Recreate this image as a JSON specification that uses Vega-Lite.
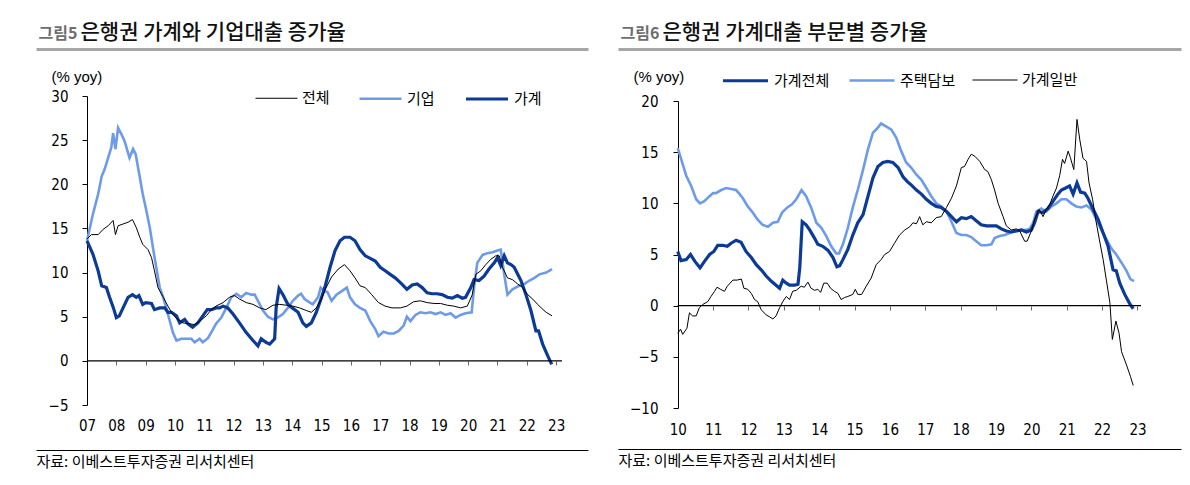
{
  "$schema": "https://vega.github.io/schema/vega-lite/v6.json",
  "padding": {"left": 33, "top": 21, "right": 5, "bottom": 5},
  "background": "#ffffff",
  "config": {
    "view": {"stroke": null},
    "axis": {"grid": false, "labelFont": "DejaVu Sans Condensed, Liberation Sans, sans-serif", "labelFontSize": 15, "labelColor": "#000000", "domainColor": "#000000", "tickColor": "#000000"},
    "legend": {"labelFont": "Noto Sans CJK KR", "labelFontSize": 15, "labelColor": "#000000"}
  },
  "datasets": {
    "left": [
      {"s":"기업","t":2007.0,"v":13.6},{"s":"기업","t":2007.2,"v":16.6},{"s":"기업","t":2007.38,"v":18.9},{"s":"기업","t":2007.5,"v":20.9},{"s":"기업","t":2007.6,"v":21.7},{"s":"기업","t":2007.72,"v":23.0},{"s":"기업","t":2007.83,"v":24.2},{"s":"기업","t":2007.89,"v":25.8},{"s":"기업","t":2007.97,"v":24.0},{"s":"기업","t":2008.06,"v":26.4},{"s":"기업","t":2008.17,"v":25.7},{"s":"기업","t":2008.28,"v":24.9},{"s":"기업","t":2008.45,"v":23.0},{"s":"기업","t":2008.57,"v":24.0},{"s":"기업","t":2008.66,"v":23.4},{"s":"기업","t":2008.8,"v":20.8},{"s":"기업","t":2008.9,"v":18.9},{"s":"기업","t":2009.0,"v":17.4},{"s":"기업","t":2009.14,"v":15.1},{"s":"기업","t":2009.25,"v":12.8},{"s":"기업","t":2009.36,"v":10.6},{"s":"기업","t":2009.48,"v":8.3},{"s":"기업","t":2009.6,"v":7.2},{"s":"기업","t":2009.76,"v":5.3},{"s":"기업","t":2009.93,"v":3.2},{"s":"기업","t":2010.05,"v":2.3},{"s":"기업","t":2010.22,"v":2.5},{"s":"기업","t":2010.39,"v":2.5},{"s":"기업","t":2010.56,"v":2.5},{"s":"기업","t":2010.67,"v":2.1},{"s":"기업","t":2010.84,"v":2.5},{"s":"기업","t":2010.95,"v":2.1},{"s":"기업","t":2011.13,"v":2.6},{"s":"기업","t":2011.3,"v":3.6},{"s":"기업","t":2011.4,"v":4.2},{"s":"기업","t":2011.58,"v":4.9},{"s":"기업","t":2011.75,"v":6.0},{"s":"기업","t":2011.92,"v":7.2},{"s":"기업","t":2012.1,"v":7.6},{"s":"기업","t":2012.26,"v":7.2},{"s":"기업","t":2012.43,"v":7.7},{"s":"기업","t":2012.6,"v":7.5},{"s":"기업","t":2012.72,"v":7.5},{"s":"기업","t":2012.83,"v":6.8},{"s":"기업","t":2013.0,"v":5.7},{"s":"기업","t":2013.17,"v":5.0},{"s":"기업","t":2013.34,"v":4.7},{"s":"기업","t":2013.5,"v":4.9},{"s":"기업","t":2013.68,"v":5.3},{"s":"기업","t":2013.85,"v":6.0},{"s":"기업","t":2014.02,"v":6.8},{"s":"기업","t":2014.2,"v":7.4},{"s":"기업","t":2014.3,"v":7.6},{"s":"기업","t":2014.42,"v":7.0},{"s":"기업","t":2014.6,"v":6.6},{"s":"기업","t":2014.7,"v":6.4},{"s":"기업","t":2014.88,"v":7.2},{"s":"기업","t":2014.97,"v":8.3},{"s":"기업","t":2015.1,"v":7.9},{"s":"기업","t":2015.2,"v":7.8},{"s":"기업","t":2015.34,"v":6.8},{"s":"기업","t":2015.51,"v":7.5},{"s":"기업","t":2015.69,"v":7.9},{"s":"기업","t":2015.86,"v":8.3},{"s":"기업","t":2015.97,"v":7.2},{"s":"기업","t":2016.14,"v":6.4},{"s":"기업","t":2016.31,"v":6.0},{"s":"기업","t":2016.49,"v":5.7},{"s":"기업","t":2016.66,"v":4.5},{"s":"기업","t":2016.83,"v":3.6},{"s":"기업","t":2016.94,"v":2.8},{"s":"기업","t":2017.11,"v":3.3},{"s":"기업","t":2017.29,"v":3.1},{"s":"기업","t":2017.46,"v":3.1},{"s":"기업","t":2017.63,"v":3.4},{"s":"기업","t":2017.8,"v":4.0},{"s":"기업","t":2017.91,"v":5.0},{"s":"기업","t":2018.03,"v":4.5},{"s":"기업","t":2018.2,"v":5.2},{"s":"기업","t":2018.37,"v":5.5},{"s":"기업","t":2018.54,"v":5.4},{"s":"기업","t":2018.71,"v":5.5},{"s":"기업","t":2018.89,"v":5.3},{"s":"기업","t":2019.06,"v":5.5},{"s":"기업","t":2019.23,"v":5.2},{"s":"기업","t":2019.4,"v":5.4},{"s":"기업","t":2019.57,"v":4.9},{"s":"기업","t":2019.74,"v":5.2},{"s":"기업","t":2019.91,"v":5.4},{"s":"기업","t":2020.12,"v":5.5},{"s":"기업","t":2020.2,"v":8.3},{"s":"기업","t":2020.31,"v":11.1},{"s":"기업","t":2020.49,"v":12.0},{"s":"기업","t":2020.66,"v":12.2},{"s":"기업","t":2020.83,"v":12.3},{"s":"기업","t":2021.0,"v":12.5},{"s":"기업","t":2021.11,"v":12.6},{"s":"기업","t":2021.23,"v":9.8},{"s":"기업","t":2021.34,"v":7.5},{"s":"기업","t":2021.51,"v":8.1},{"s":"기업","t":2021.74,"v":8.5},{"s":"기업","t":2021.91,"v":8.7},{"s":"기업","t":2022.09,"v":9.1},{"s":"기업","t":2022.26,"v":9.4},{"s":"기업","t":2022.43,"v":9.8},{"s":"기업","t":2022.66,"v":10.0},{"s":"기업","t":2022.86,"v":10.4},
      {"s":"가계","t":2007.0,"v":13.6},{"s":"가계","t":2007.2,"v":12.1},{"s":"가계","t":2007.38,"v":10.2},{"s":"가계","t":2007.5,"v":8.5},{"s":"가계","t":2007.66,"v":8.3},{"s":"가계","t":2007.77,"v":7.2},{"s":"가계","t":2007.9,"v":6.0},{"s":"가계","t":2008.0,"v":4.9},{"s":"가계","t":2008.1,"v":5.1},{"s":"가계","t":2008.23,"v":6.0},{"s":"가계","t":2008.4,"v":7.2},{"s":"가계","t":2008.55,"v":7.5},{"s":"가계","t":2008.68,"v":7.2},{"s":"가계","t":2008.77,"v":7.4},{"s":"가계","t":2008.9,"v":6.4},{"s":"가계","t":2009.0,"v":6.6},{"s":"가계","t":2009.2,"v":6.5},{"s":"가계","t":2009.3,"v":5.8},{"s":"가계","t":2009.48,"v":6.0},{"s":"가계","t":2009.65,"v":6.0},{"s":"가계","t":2009.76,"v":5.5},{"s":"가계","t":2009.88,"v":5.5},{"s":"가계","t":2010.05,"v":5.1},{"s":"가계","t":2010.16,"v":4.3},{"s":"가계","t":2010.33,"v":4.7},{"s":"가계","t":2010.44,"v":4.2},{"s":"가계","t":2010.6,"v":3.8},{"s":"가계","t":2010.78,"v":4.3},{"s":"가계","t":2010.95,"v":5.1},{"s":"가계","t":2011.1,"v":5.8},{"s":"가계","t":2011.24,"v":5.8},{"s":"가계","t":2011.4,"v":6.0},{"s":"가계","t":2011.52,"v":6.0},{"s":"가계","t":2011.64,"v":6.2},{"s":"가계","t":2011.8,"v":6.0},{"s":"가계","t":2011.98,"v":5.3},{"s":"가계","t":2012.2,"v":4.3},{"s":"가계","t":2012.43,"v":3.2},{"s":"가계","t":2012.66,"v":2.3},{"s":"가계","t":2012.83,"v":1.7},{"s":"가계","t":2012.94,"v":2.5},{"s":"가계","t":2013.1,"v":2.1},{"s":"가계","t":2013.23,"v":1.9},{"s":"가계","t":2013.4,"v":2.5},{"s":"가계","t":2013.45,"v":6.0},{"s":"가계","t":2013.55,"v":8.2},{"s":"가계","t":2013.68,"v":7.5},{"s":"가계","t":2013.85,"v":6.4},{"s":"가계","t":2014.0,"v":6.0},{"s":"가계","t":2014.2,"v":5.5},{"s":"가계","t":2014.36,"v":4.3},{"s":"가계","t":2014.48,"v":3.9},{"s":"가계","t":2014.65,"v":4.3},{"s":"가계","t":2014.82,"v":5.5},{"s":"가계","t":2015.0,"v":7.2},{"s":"가계","t":2015.11,"v":8.3},{"s":"가계","t":2015.29,"v":10.6},{"s":"가계","t":2015.46,"v":12.5},{"s":"가계","t":2015.63,"v":13.6},{"s":"가계","t":2015.78,"v":14.0},{"s":"가계","t":2015.97,"v":14.0},{"s":"가계","t":2016.14,"v":13.6},{"s":"가계","t":2016.31,"v":12.6},{"s":"가계","t":2016.49,"v":11.9},{"s":"가계","t":2016.66,"v":11.6},{"s":"가계","t":2016.83,"v":11.3},{"s":"가계","t":2017.0,"v":10.6},{"s":"가계","t":2017.17,"v":10.2},{"s":"가계","t":2017.34,"v":9.8},{"s":"가계","t":2017.51,"v":9.4},{"s":"가계","t":2017.74,"v":8.7},{"s":"가계","t":2017.91,"v":8.1},{"s":"가계","t":2018.09,"v":8.6},{"s":"가계","t":2018.26,"v":8.7},{"s":"가계","t":2018.43,"v":8.3},{"s":"가계","t":2018.6,"v":7.7},{"s":"가계","t":2018.77,"v":7.6},{"s":"가계","t":2018.94,"v":7.6},{"s":"가계","t":2019.11,"v":7.5},{"s":"가계","t":2019.29,"v":7.2},{"s":"가계","t":2019.46,"v":7.1},{"s":"가계","t":2019.63,"v":7.4},{"s":"가계","t":2019.8,"v":7.1},{"s":"가계","t":2019.91,"v":7.2},{"s":"가계","t":2020.09,"v":8.3},{"s":"가계","t":2020.2,"v":9.2},{"s":"가계","t":2020.37,"v":9.1},{"s":"가계","t":2020.54,"v":9.6},{"s":"가계","t":2020.71,"v":10.4},{"s":"가계","t":2020.89,"v":11.1},{"s":"가계","t":2021.0,"v":11.7},{"s":"가계","t":2021.11,"v":10.8},{"s":"가계","t":2021.23,"v":11.9},{"s":"가계","t":2021.34,"v":11.1},{"s":"가계","t":2021.46,"v":10.9},{"s":"가계","t":2021.57,"v":10.6},{"s":"가계","t":2021.69,"v":9.8},{"s":"가계","t":2021.8,"v":9.1},{"s":"가계","t":2021.97,"v":7.5},{"s":"가계","t":2022.14,"v":5.7},{"s":"가계","t":2022.31,"v":3.4},{"s":"가계","t":2022.4,"v":3.4},{"s":"가계","t":2022.54,"v":1.9},{"s":"가계","t":2022.71,"v":0.6},{"s":"가계","t":2022.85,"v":-0.4},
      {"s":"전체","t":2007.0,"v":13.8},{"s":"전체","t":2007.15,"v":14.3},{"s":"전체","t":2007.38,"v":14.3},{"s":"전체","t":2007.55,"v":14.9},{"s":"전체","t":2007.72,"v":15.3},{"s":"전체","t":2007.89,"v":15.9},{"s":"전체","t":2007.97,"v":14.3},{"s":"전체","t":2008.06,"v":15.3},{"s":"전체","t":2008.23,"v":15.5},{"s":"전체","t":2008.4,"v":15.7},{"s":"전체","t":2008.55,"v":16.0},{"s":"전체","t":2008.68,"v":15.1},{"s":"전체","t":2008.8,"v":14.0},{"s":"전체","t":2008.9,"v":13.2},{"s":"전체","t":2009.08,"v":12.6},{"s":"전체","t":2009.2,"v":11.7},{"s":"전체","t":2009.3,"v":10.2},{"s":"전체","t":2009.42,"v":8.3},{"s":"전체","t":2009.6,"v":7.2},{"s":"전체","t":2009.76,"v":6.2},{"s":"전체","t":2009.88,"v":5.5},{"s":"전체","t":2010.05,"v":4.8},{"s":"전체","t":2010.27,"v":4.3},{"s":"전체","t":2010.5,"v":4.2},{"s":"전체","t":2010.67,"v":4.1},{"s":"전체","t":2010.84,"v":4.5},{"s":"전체","t":2011.07,"v":5.1},{"s":"전체","t":2011.24,"v":5.8},{"s":"전체","t":2011.4,"v":6.2},{"s":"전체","t":2011.64,"v":6.6},{"s":"전체","t":2011.86,"v":7.2},{"s":"전체","t":2012.03,"v":7.4},{"s":"전체","t":2012.2,"v":7.0},{"s":"전체","t":2012.43,"v":6.6},{"s":"전체","t":2012.66,"v":6.4},{"s":"전체","t":2012.89,"v":6.0},{"s":"전체","t":2013.1,"v":5.8},{"s":"전체","t":2013.34,"v":6.3},{"s":"전체","t":2013.57,"v":6.4},{"s":"전체","t":2013.8,"v":6.3},{"s":"전체","t":2014.02,"v":6.2},{"s":"전체","t":2014.25,"v":6.0},{"s":"전체","t":2014.48,"v":5.7},{"s":"전체","t":2014.65,"v":5.5},{"s":"전체","t":2014.82,"v":6.0},{"s":"전체","t":2015.0,"v":7.0},{"s":"전체","t":2015.11,"v":8.0},{"s":"전체","t":2015.34,"v":9.5},{"s":"전체","t":2015.57,"v":10.4},{"s":"전체","t":2015.78,"v":10.9},{"s":"전체","t":2015.97,"v":10.2},{"s":"전체","t":2016.14,"v":9.4},{"s":"전체","t":2016.31,"v":8.5},{"s":"전체","t":2016.49,"v":8.3},{"s":"전체","t":2016.71,"v":7.5},{"s":"전체","t":2016.94,"v":6.6},{"s":"전체","t":2017.17,"v":6.2},{"s":"전체","t":2017.4,"v":6.0},{"s":"전체","t":2017.69,"v":6.0},{"s":"전체","t":2017.91,"v":6.2},{"s":"전체","t":2018.14,"v":6.7},{"s":"전체","t":2018.37,"v":6.8},{"s":"전체","t":2018.6,"v":6.6},{"s":"전체","t":2018.83,"v":6.5},{"s":"전체","t":2019.06,"v":6.5},{"s":"전체","t":2019.29,"v":6.3},{"s":"전체","t":2019.51,"v":6.2},{"s":"전체","t":2019.74,"v":6.0},{"s":"전체","t":2019.97,"v":6.2},{"s":"전체","t":2020.14,"v":7.5},{"s":"전체","t":2020.26,"v":9.8},{"s":"전체","t":2020.43,"v":10.2},{"s":"전체","t":2020.6,"v":10.9},{"s":"전체","t":2020.77,"v":11.5},{"s":"전체","t":2020.94,"v":11.9},{"s":"전체","t":2021.06,"v":11.9},{"s":"전체","t":2021.17,"v":10.6},{"s":"전체","t":2021.34,"v":9.4},{"s":"전체","t":2021.51,"v":9.2},{"s":"전체","t":2021.69,"v":8.7},{"s":"전체","t":2021.86,"v":8.3},{"s":"전체","t":2022.03,"v":7.5},{"s":"전체","t":2022.2,"v":7.0},{"s":"전체","t":2022.37,"v":6.4},{"s":"전체","t":2022.49,"v":6.0},{"s":"전체","t":2022.66,"v":5.5},{"s":"전체","t":2022.86,"v":5.1}
    ],
    "right": [
      {"s":"주택담보","t":2010.0,"v":15.4},{"s":"주택담보","t":2010.09,"v":14.4},{"s":"주택담보","t":2010.24,"v":12.7},{"s":"주택담보","t":2010.38,"v":11.7},{"s":"주택담보","t":2010.52,"v":10.4},{"s":"주택담보","t":2010.63,"v":10.0},{"s":"주택담보","t":2010.75,"v":10.2},{"s":"주택담보","t":2010.9,"v":10.7},{"s":"주택담보","t":2011.0,"v":11.0},{"s":"주택담보","t":2011.08,"v":11.0},{"s":"주택담보","t":2011.23,"v":11.3},{"s":"주택담보","t":2011.37,"v":11.5},{"s":"주택담보","t":2011.51,"v":11.4},{"s":"주택담보","t":2011.65,"v":11.3},{"s":"주택담보","t":2011.75,"v":10.9},{"s":"주택담보","t":2011.84,"v":10.5},{"s":"주택담보","t":2011.98,"v":9.7},{"s":"주택담보","t":2012.12,"v":9.1},{"s":"주택담보","t":2012.26,"v":8.4},{"s":"주택담보","t":2012.4,"v":7.9},{"s":"주택담보","t":2012.55,"v":7.7},{"s":"주택담보","t":2012.69,"v":8.1},{"s":"주택담보","t":2012.83,"v":8.2},{"s":"주택담보","t":2012.95,"v":9.1},{"s":"주택담보","t":2013.1,"v":9.6},{"s":"주택담보","t":2013.23,"v":9.9},{"s":"주택담보","t":2013.35,"v":10.4},{"s":"주택담보","t":2013.5,"v":11.3},{"s":"주택담보","t":2013.63,"v":10.7},{"s":"주택담보","t":2013.77,"v":9.6},{"s":"주택담보","t":2013.92,"v":8.1},{"s":"주택담보","t":2014.06,"v":7.6},{"s":"주택담보","t":2014.2,"v":6.8},{"s":"주택담보","t":2014.34,"v":5.8},{"s":"주택담보","t":2014.48,"v":5.1},{"s":"주택담보","t":2014.56,"v":5.1},{"s":"주택담보","t":2014.67,"v":6.0},{"s":"주택담보","t":2014.81,"v":7.6},{"s":"주택담보","t":2014.95,"v":9.6},{"s":"주택담보","t":2015.09,"v":11.3},{"s":"주택담보","t":2015.24,"v":13.3},{"s":"주택담보","t":2015.38,"v":15.3},{"s":"주택담보","t":2015.52,"v":16.9},{"s":"주택담보","t":2015.66,"v":17.4},{"s":"주택담보","t":2015.75,"v":17.8},{"s":"주택담보","t":2015.9,"v":17.5},{"s":"주택담보","t":2016.04,"v":17.2},{"s":"주택담보","t":2016.18,"v":16.4},{"s":"주택담보","t":2016.32,"v":15.1},{"s":"주택담보","t":2016.46,"v":14.0},{"s":"주택담보","t":2016.6,"v":13.5},{"s":"주택담보","t":2016.75,"v":12.8},{"s":"주택담보","t":2016.89,"v":12.3},{"s":"주택담보","t":2017.03,"v":11.5},{"s":"주택담보","t":2017.17,"v":10.7},{"s":"주택담보","t":2017.31,"v":10.0},{"s":"주택담보","t":2017.45,"v":9.7},{"s":"주택담보","t":2017.6,"v":9.2},{"s":"주택담보","t":2017.74,"v":8.2},{"s":"주택담보","t":2017.88,"v":7.1},{"s":"주택담보","t":2018.02,"v":6.9},{"s":"주택담보","t":2018.16,"v":6.9},{"s":"주택담보","t":2018.3,"v":6.7},{"s":"주택담보","t":2018.44,"v":6.3},{"s":"주택담보","t":2018.58,"v":5.9},{"s":"주택담보","t":2018.73,"v":5.9},{"s":"주택담보","t":2018.87,"v":6.0},{"s":"주택담보","t":2018.96,"v":6.6},{"s":"주택담보","t":2019.1,"v":6.8},{"s":"주택담보","t":2019.25,"v":6.9},{"s":"주택담보","t":2019.39,"v":7.1},{"s":"주택담보","t":2019.53,"v":7.3},{"s":"주택담보","t":2019.67,"v":7.4},{"s":"주택담보","t":2019.81,"v":7.4},{"s":"주택담보","t":2019.95,"v":7.5},{"s":"주택담보","t":2020.05,"v":8.1},{"s":"주택담보","t":2020.14,"v":9.2},{"s":"주택담보","t":2020.28,"v":9.5},{"s":"주택담보","t":2020.42,"v":9.2},{"s":"주택담보","t":2020.57,"v":9.7},{"s":"주택담보","t":2020.71,"v":10.0},{"s":"주택담보","t":2020.85,"v":10.4},{"s":"주택담보","t":2020.99,"v":10.4},{"s":"주택담보","t":2021.13,"v":10.0},{"s":"주택담보","t":2021.27,"v":9.7},{"s":"주택담보","t":2021.42,"v":9.6},{"s":"주택담보","t":2021.56,"v":9.8},{"s":"주택담보","t":2021.7,"v":9.4},{"s":"주택담보","t":2021.84,"v":8.4},{"s":"주택담보","t":2021.98,"v":7.4},{"s":"주택담보","t":2022.12,"v":6.5},{"s":"주택담보","t":2022.26,"v":5.6},{"s":"주택담보","t":2022.4,"v":5.0},{"s":"주택담보","t":2022.55,"v":4.2},{"s":"주택담보","t":2022.69,"v":3.4},{"s":"주택담보","t":2022.8,"v":2.6},{"s":"주택담보","t":2022.9,"v":2.4},
      {"s":"가계전체","t":2010.0,"v":5.3},{"s":"가계전체","t":2010.09,"v":4.4},{"s":"가계전체","t":2010.24,"v":4.5},{"s":"가계전체","t":2010.36,"v":5.0},{"s":"가계전체","t":2010.49,"v":4.3},{"s":"가계전체","t":2010.63,"v":3.7},{"s":"가계전체","t":2010.75,"v":4.3},{"s":"가계전체","t":2010.9,"v":5.0},{"s":"가계전체","t":2011.02,"v":5.3},{"s":"가계전체","t":2011.13,"v":5.9},{"s":"가계전체","t":2011.27,"v":5.9},{"s":"가계전체","t":2011.4,"v":5.8},{"s":"가계전체","t":2011.51,"v":6.1},{"s":"가계전체","t":2011.65,"v":6.4},{"s":"가계전체","t":2011.79,"v":6.2},{"s":"가계전체","t":2011.93,"v":5.3},{"s":"가계전체","t":2012.08,"v":4.7},{"s":"가계전체","t":2012.22,"v":4.0},{"s":"가계전체","t":2012.36,"v":3.5},{"s":"가계전체","t":2012.5,"v":2.9},{"s":"가계전체","t":2012.64,"v":2.4},{"s":"가계전체","t":2012.78,"v":2.0},{"s":"가계전체","t":2012.88,"v":1.7},{"s":"가계전체","t":2012.97,"v":2.5},{"s":"가계전체","t":2013.07,"v":2.2},{"s":"가계전체","t":2013.16,"v":2.0},{"s":"가계전체","t":2013.3,"v":2.0},{"s":"가계전체","t":2013.4,"v":2.1},{"s":"가계전체","t":2013.45,"v":3.7},{"s":"가계전체","t":2013.52,"v":8.2},{"s":"가계전체","t":2013.63,"v":7.9},{"s":"가계전체","t":2013.73,"v":7.4},{"s":"가계전체","t":2013.85,"v":6.7},{"s":"가계전체","t":2013.96,"v":6.0},{"s":"가계전체","t":2014.1,"v":5.8},{"s":"가계전체","t":2014.25,"v":5.4},{"s":"가계전체","t":2014.39,"v":4.7},{"s":"가계전체","t":2014.5,"v":3.8},{"s":"가계전체","t":2014.58,"v":3.9},{"s":"가계전체","t":2014.67,"v":4.5},{"s":"가계전체","t":2014.81,"v":5.5},{"s":"가계전체","t":2014.95,"v":6.9},{"s":"가계전체","t":2015.09,"v":8.1},{"s":"가계전체","t":2015.24,"v":8.9},{"s":"가계전체","t":2015.38,"v":10.7},{"s":"가계전체","t":2015.52,"v":12.5},{"s":"가계전체","t":2015.66,"v":13.6},{"s":"가계전체","t":2015.8,"v":14.0},{"s":"가계전체","t":2015.94,"v":14.1},{"s":"가계전체","t":2016.08,"v":14.0},{"s":"가계전체","t":2016.23,"v":13.5},{"s":"가계전체","t":2016.37,"v":12.6},{"s":"가계전체","t":2016.5,"v":12.1},{"s":"가계전체","t":2016.6,"v":11.8},{"s":"가계전체","t":2016.75,"v":11.3},{"s":"가계전체","t":2016.89,"v":10.9},{"s":"가계전체","t":2017.03,"v":10.4},{"s":"가계전체","t":2017.17,"v":10.0},{"s":"가계전체","t":2017.31,"v":9.7},{"s":"가계전체","t":2017.45,"v":9.6},{"s":"가계전체","t":2017.6,"v":9.2},{"s":"가계전체","t":2017.74,"v":8.7},{"s":"가계전체","t":2017.88,"v":8.2},{"s":"가계전체","t":2018.02,"v":8.6},{"s":"가계전체","t":2018.16,"v":8.5},{"s":"가계전체","t":2018.3,"v":8.7},{"s":"가계전체","t":2018.44,"v":8.3},{"s":"가계전체","t":2018.58,"v":7.9},{"s":"가계전체","t":2018.73,"v":7.8},{"s":"가계전체","t":2018.87,"v":7.8},{"s":"가계전체","t":2019.01,"v":7.8},{"s":"가계전체","t":2019.15,"v":7.5},{"s":"가계전체","t":2019.29,"v":7.3},{"s":"가계전체","t":2019.43,"v":7.2},{"s":"가계전체","t":2019.58,"v":7.3},{"s":"가계전체","t":2019.72,"v":7.4},{"s":"가계전체","t":2019.86,"v":7.2},{"s":"가계전체","t":2020.0,"v":7.4},{"s":"가계전체","t":2020.09,"v":8.1},{"s":"가계전체","t":2020.19,"v":9.2},{"s":"가계전체","t":2020.33,"v":9.1},{"s":"가계전체","t":2020.47,"v":9.5},{"s":"가계전체","t":2020.61,"v":10.2},{"s":"가계전체","t":2020.75,"v":10.9},{"s":"가계전체","t":2020.85,"v":11.3},{"s":"가계전체","t":2020.97,"v":11.5},{"s":"가계전체","t":2021.08,"v":11.7},{"s":"가계전체","t":2021.18,"v":10.9},{"s":"가계전체","t":2021.29,"v":12.0},{"s":"가계전체","t":2021.39,"v":11.1},{"s":"가계전체","t":2021.51,"v":11.0},{"s":"가계전체","t":2021.6,"v":10.5},{"s":"가계전체","t":2021.75,"v":9.4},{"s":"가계전체","t":2021.89,"v":8.4},{"s":"가계전체","t":2022.03,"v":7.1},{"s":"가계전체","t":2022.17,"v":5.8},{"s":"가계전체","t":2022.31,"v":3.5},{"s":"가계전체","t":2022.4,"v":3.4},{"s":"가계전체","t":2022.5,"v":2.2},{"s":"가계전체","t":2022.64,"v":1.1},{"s":"가계전체","t":2022.78,"v":0.2},{"s":"가계전체","t":2022.88,"v":-0.3},
      {"s":"가계일반","t":2010.0,"v":-2.7},{"s":"가계일반","t":2010.08,"v":-2.3},{"s":"가계일반","t":2010.14,"v":-2.8},{"s":"가계일반","t":2010.26,"v":-2.2},{"s":"가계일반","t":2010.33,"v":-0.7},{"s":"가계일반","t":2010.42,"v":-1.0},{"s":"가계일반","t":2010.52,"v":-1.0},{"s":"가계일반","t":2010.61,"v":-0.2},{"s":"가계일반","t":2010.7,"v":0.1},{"s":"가계일반","t":2010.85,"v":0.4},{"s":"가계일반","t":2010.94,"v":0.9},{"s":"가계일반","t":2011.04,"v":1.4},{"s":"가계일반","t":2011.11,"v":1.8},{"s":"가계일반","t":2011.21,"v":1.6},{"s":"가계일반","t":2011.32,"v":1.4},{"s":"가계일반","t":2011.4,"v":1.9},{"s":"가계일반","t":2011.56,"v":2.5},{"s":"가계일반","t":2011.68,"v":2.5},{"s":"가계일반","t":2011.8,"v":2.6},{"s":"가계일반","t":2011.87,"v":1.7},{"s":"가계일반","t":2011.98,"v":1.6},{"s":"가계일반","t":2012.08,"v":1.2},{"s":"가계일반","t":2012.17,"v":0.6},{"s":"가계일반","t":2012.26,"v":0.4},{"s":"가계일반","t":2012.36,"v":-0.4},{"s":"가계일반","t":2012.5,"v":-0.9},{"s":"가계일반","t":2012.6,"v":-1.1},{"s":"가계일반","t":2012.69,"v":-1.3},{"s":"가계일반","t":2012.78,"v":-1.0},{"s":"가계일반","t":2012.88,"v":-0.2},{"s":"가계일반","t":2012.97,"v":0.4},{"s":"가계일반","t":2013.07,"v":0.9},{"s":"가계일반","t":2013.16,"v":0.6},{"s":"가계일반","t":2013.25,"v":1.4},{"s":"가계일반","t":2013.35,"v":1.5},{"s":"가계일반","t":2013.49,"v":1.9},{"s":"가계일반","t":2013.58,"v":1.8},{"s":"가계일반","t":2013.68,"v":2.3},{"s":"가계일반","t":2013.77,"v":1.7},{"s":"가계일반","t":2013.87,"v":1.5},{"s":"가계일반","t":2013.96,"v":1.6},{"s":"가계일반","t":2014.04,"v":1.3},{"s":"가계일반","t":2014.13,"v":2.2},{"s":"가계일반","t":2014.23,"v":2.2},{"s":"가계일반","t":2014.32,"v":1.7},{"s":"가계일반","t":2014.43,"v":1.4},{"s":"가계일반","t":2014.53,"v":1.2},{"s":"가계일반","t":2014.62,"v":0.6},{"s":"가계일반","t":2014.72,"v":0.8},{"s":"가계일반","t":2014.81,"v":0.9},{"s":"가계일반","t":2014.95,"v":1.1},{"s":"가계일반","t":2015.02,"v":1.6},{"s":"가계일반","t":2015.09,"v":1.1},{"s":"가계일반","t":2015.2,"v":1.1},{"s":"가계일반","t":2015.33,"v":1.9},{"s":"가계일반","t":2015.47,"v":2.7},{"s":"가계일반","t":2015.61,"v":4.0},{"s":"가계일반","t":2015.75,"v":4.5},{"s":"가계일반","t":2015.85,"v":5.0},{"s":"가계일반","t":2015.99,"v":5.3},{"s":"가계일반","t":2016.13,"v":6.1},{"s":"가계일반","t":2016.27,"v":6.9},{"s":"가계일반","t":2016.42,"v":7.4},{"s":"가계일반","t":2016.56,"v":7.7},{"s":"가계일반","t":2016.65,"v":8.1},{"s":"가계일반","t":2016.75,"v":8.0},{"s":"가계일반","t":2016.84,"v":8.7},{"s":"가계일반","t":2016.93,"v":7.9},{"s":"가계일반","t":2017.03,"v":8.2},{"s":"가계일반","t":2017.17,"v":8.1},{"s":"가계일반","t":2017.31,"v":8.6},{"s":"가계일반","t":2017.45,"v":8.7},{"s":"가계일반","t":2017.6,"v":9.6},{"s":"가계일반","t":2017.74,"v":10.5},{"s":"가계일반","t":2017.88,"v":11.7},{"s":"가계일반","t":2018.02,"v":13.5},{"s":"가계일반","t":2018.11,"v":13.6},{"s":"가계일반","t":2018.21,"v":14.3},{"s":"가계일반","t":2018.3,"v":14.8},{"s":"가계일반","t":2018.4,"v":14.6},{"s":"가계일반","t":2018.54,"v":14.1},{"s":"가계일반","t":2018.68,"v":13.3},{"s":"가계일반","t":2018.77,"v":13.1},{"s":"가계일반","t":2018.87,"v":12.3},{"s":"가계일반","t":2018.96,"v":11.3},{"s":"가계일반","t":2019.06,"v":10.0},{"s":"가계일반","t":2019.2,"v":8.7},{"s":"가계일반","t":2019.29,"v":7.8},{"s":"가계일반","t":2019.43,"v":7.4},{"s":"가계일반","t":2019.58,"v":7.5},{"s":"가계일반","t":2019.67,"v":7.3},{"s":"가계일반","t":2019.81,"v":6.3},{"s":"가계일반","t":2019.88,"v":6.3},{"s":"가계일반","t":2020.0,"v":7.3},{"s":"가계일반","t":2020.09,"v":8.4},{"s":"가계일반","t":2020.22,"v":9.4},{"s":"가계일반","t":2020.33,"v":8.7},{"s":"가계일반","t":2020.42,"v":9.4},{"s":"가계일반","t":2020.52,"v":9.9},{"s":"가계일반","t":2020.61,"v":10.7},{"s":"가계일반","t":2020.71,"v":11.5},{"s":"가계일반","t":2020.8,"v":12.7},{"s":"가계일반","t":2020.88,"v":14.3},{"s":"가계일반","t":2020.94,"v":13.9},{"s":"가계일반","t":2021.04,"v":15.1},{"s":"가계일반","t":2021.1,"v":14.5},{"s":"가계일반","t":2021.2,"v":13.3},{"s":"가계일반","t":2021.29,"v":18.2},{"s":"가계일반","t":2021.37,"v":16.2},{"s":"가계일반","t":2021.46,"v":14.4},{"s":"가계일반","t":2021.56,"v":14.1},{"s":"가계일반","t":2021.63,"v":12.0},{"s":"가계일반","t":2021.73,"v":10.4},{"s":"가계일반","t":2021.82,"v":8.4},{"s":"가계일반","t":2021.92,"v":6.5},{"s":"가계일반","t":2022.03,"v":4.5},{"s":"가계일반","t":2022.12,"v":2.5},{"s":"가계일반","t":2022.22,"v":0.3},{"s":"가계일반","t":2022.29,"v":-3.3},{"s":"가계일반","t":2022.39,"v":-1.5},{"s":"가계일반","t":2022.48,"v":-2.7},{"s":"가계일반","t":2022.55,"v":-4.5},{"s":"가계일반","t":2022.69,"v":-5.8},{"s":"가계일반","t":2022.8,"v":-6.9},{"s":"가계일반","t":2022.88,"v":-7.8}
    ]
  },
  "resolve": {"scale": {"color": "independent", "strokeWidth": "independent"}, "legend": {"color": "independent", "strokeWidth": "independent"}},
  "spacing": 27,
  "hconcat": [
    {
      "spacing": 17,
      "resolve": {"scale": {"color": "independent", "strokeWidth": "independent"}, "legend": {"color": "independent", "strokeWidth": "independent"}},
      "vconcat": [
        {
          "width": 552, "height": 1,
          "data": {"values": [{}]},
          "mark": {"type": "point", "opacity": 0},
          "encoding": {
            "x": {"datum": 0, "type": "quantitative", "scale": {"domain": [0, 1]},
              "axis": {"orient": "bottom", "domainColor": "#A6A6A6", "domainWidth": 3, "ticks": false, "labels": false, "title": "은행권 가계와 기업대출 증가율", "titleX": 44, "titleY": -11, "titleAlign": "left", "titleAnchor": null, "titleBaseline": "alphabetic", "titleFont": "Noto Sans CJK KR", "titleFontSize": 21, "titleFontWeight": 500, "titleColor": "#111111"}},
            "y": {"datum": 0, "type": "quantitative", "scale": {"domain": [0, 1]},
              "axis": {"domain": false, "ticks": false, "labels": false, "title": "그림5", "titleAngle": 0, "titleX": 2, "titleY": -10, "titleAlign": "left", "titleAnchor": null, "titleBaseline": "alphabetic", "titleFont": "Noto Sans CJK KR", "titleFontSize": 16, "titleFontWeight": "bold", "titleColor": "#6E6E6E"}}
          }
        },
        {
          "spacing": 14,
          "resolve": {"scale": {"color": "independent", "strokeWidth": "independent"}, "legend": {"color": "independent", "strokeWidth": "independent"}},
          "vconcat": [
            {
              "width": 526, "height": 309,
              "layer": [
                {
                  "data": {"name": "left"},
                  "mark": {"type": "line"},
                  "encoding": {
                    "x": {"field": "t", "type": "quantitative", "scale": {"domain": [2005.26, 2023.2], "nice": false, "zero": false},
                      "axis": {"orient": "bottom", "offset": -44, "domain": false, "values": [2007,2008,2009,2010,2011,2012,2013,2014,2015,2016,2017,2018,2019,2020,2021,2022,2023], "labels": false, "title": null, "tickSize": 4, "tickColor": "#666666"}},
                    "y": {"field": "v", "type": "quantitative", "scale": {"domain": [-5, 30], "nice": false, "zero": false},
                      "axis": {"offset": -51, "values": [-5,0,5,10,15,20,25,30], "tickSize": 5, "labelPadding": 14, "title": "(% yoy)", "titleAngle": 0, "titleX": -36, "titleY": -15, "titleAlign": "left", "titleAnchor": null, "titleBaseline": "alphabetic", "titleFont": "Liberation Sans", "titleFontSize": 15, "titleFontWeight": "normal", "titleColor": "#000000"}},
                    "color": {"field": "s", "type": "nominal", "scale": {"domain": ["전체", "기업", "가계"], "range": ["#000000", "#6D9BEA", "#0B3A97"]},
                      "legend": {"orient": "none", "legendX": 219, "legendY": -20, "direction": "horizontal", "title": null, "symbolType": "stroke", "symbolSize": 1764, "labelOffset": 4, "columnPadding": 24, "padding": 0}},
                    "strokeWidth": {"field": "s", "type": "nominal", "scale": {"type": "ordinal", "domain": ["전체", "기업", "가계"], "range": [1, 2.6, 3.2]},
                      "legend": {"orient": "none", "legendX": 219, "legendY": -20, "direction": "horizontal", "title": null, "symbolType": "stroke", "symbolSize": 1764, "labelOffset": 4, "columnPadding": 24, "padding": 0}}
                  }
                },
                {
                  "data": {"values": [{}]},
                  "mark": {"type": "rule", "color": "#000000", "strokeWidth": 1.2},
                  "encoding": {
                    "x": {"datum": 2007, "type": "quantitative", "axis": null},
                    "x2": {"datum": 2023.2},
                    "y": {"datum": 0, "type": "quantitative"}
                  }
                },
                {
                  "data": {"name": "left"},
                  "mark": {"type": "point", "opacity": 0},
                  "encoding": {
                    "x": {"field": "t", "type": "quantitative",
                      "axis": {"orient": "bottom", "domain": false, "ticks": false, "labelPadding": 13, "values": [2007,2008,2009,2010,2011,2012,2013,2014,2015,2016,2017,2018,2019,2020,2021,2022,2023], "labelExpr": "slice('0' + (datum.value % 100), -2)", "title": null}}
                  }
                }
              ],
              "resolve": {"axis": {"x": "independent"}}
            },
            {
              "width": 552, "height": 1,
              "data": {"values": [{}]},
              "mark": {"type": "point", "opacity": 0},
              "encoding": {
                "x": {"datum": 0, "type": "quantitative", "scale": {"domain": [0, 1]},
                  "axis": {"orient": "top", "domainColor": "#000000", "domainWidth": 1, "ticks": false, "labels": false, "title": "자료: 이베스트투자증권 리서치센터", "titleX": 0, "titleY": 16, "titleAlign": "left", "titleAnchor": null, "titleBaseline": "alphabetic", "titleFont": "Noto Sans CJK KR", "titleFontSize": 15, "titleFontWeight": "normal", "titleColor": "#000000"}}
              }
            }
          ]
        }
      ]
    },
    {
      "spacing": 4,
      "resolve": {"scale": {"color": "independent", "strokeWidth": "independent"}, "legend": {"color": "independent", "strokeWidth": "independent"}},
      "vconcat": [
        {
          "width": 563, "height": 1,
          "data": {"values": [{}]},
          "mark": {"type": "point", "opacity": 0},
          "encoding": {
            "x": {"datum": 0, "type": "quantitative", "scale": {"domain": [0, 1]},
              "axis": {"orient": "bottom", "domainColor": "#A6A6A6", "domainWidth": 3, "ticks": false, "labels": false, "title": "은행권 가계대출 부문별 증가율", "titleX": 44, "titleY": -11, "titleAlign": "left", "titleAnchor": null, "titleBaseline": "alphabetic", "titleFont": "Noto Sans CJK KR", "titleFontSize": 21, "titleFontWeight": 500, "titleColor": "#111111"}},
            "y": {"datum": 0, "type": "quantitative", "scale": {"domain": [0, 1]},
              "axis": {"domain": false, "ticks": false, "labels": false, "title": "그림6", "titleAngle": 0, "titleX": 2, "titleY": -10, "titleAlign": "left", "titleAnchor": null, "titleBaseline": "alphabetic", "titleFont": "Noto Sans CJK KR", "titleFontSize": 16, "titleFontWeight": "bold", "titleColor": "#6E6E6E"}}
          }
        },
        {
          "spacing": 9,
          "resolve": {"scale": {"color": "independent", "strokeWidth": "independent"}, "legend": {"color": "independent", "strokeWidth": "independent"}},
          "vconcat": [
            {
              "width": 523, "height": 307,
              "layer": [
                {
                  "data": {"name": "right"},
                  "mark": {"type": "line"},
                  "encoding": {
                    "x": {"field": "t", "type": "quantitative", "scale": {"domain": [2008.31, 2023.1], "nice": false, "zero": false},
                      "axis": {"orient": "bottom", "offset": -102, "domain": false, "values": [2010,2011,2012,2013,2014,2015,2016,2017,2018,2019,2020,2021,2022,2023], "labels": false, "title": null, "tickSize": 4, "tickColor": "#666666"}},
                    "y": {"field": "v", "type": "quantitative", "scale": {"domain": [-10, 20], "nice": false, "zero": false},
                      "axis": {"offset": -60, "values": [-10,-5,0,5,10,15,20], "tickSize": 5, "labelPadding": 15, "title": "(% yoy)", "titleAngle": 0, "titleX": -45, "titleY": -20, "titleAlign": "left", "titleAnchor": null, "titleBaseline": "alphabetic", "titleFont": "Liberation Sans", "titleFontSize": 15, "titleFontWeight": "normal", "titleColor": "#000000"}},
                    "color": {"field": "s", "type": "nominal", "scale": {"domain": ["가계전체", "주택담보", "가계일반"], "range": ["#0B3A97", "#6D9BEA", "#000000"]},
                      "legend": {"orient": "none", "legendX": 103, "legendY": -45, "direction": "horizontal", "title": null, "symbolType": "stroke", "symbolSize": 2025, "labelOffset": 4, "columnPadding": 14, "padding": 0}},
                    "strokeWidth": {"field": "s", "type": "nominal", "scale": {"type": "ordinal", "domain": ["가계전체", "주택담보", "가계일반"], "range": [3.2, 2.6, 1]},
                      "legend": {"orient": "none", "legendX": 103, "legendY": -45, "direction": "horizontal", "title": null, "symbolType": "stroke", "symbolSize": 2025, "labelOffset": 4, "columnPadding": 14, "padding": 0}}
                  }
                },
                {
                  "data": {"values": [{}]},
                  "mark": {"type": "rule", "color": "#000000", "strokeWidth": 1.2},
                  "encoding": {
                    "x": {"datum": 2010, "type": "quantitative", "axis": null},
                    "x2": {"datum": 2023.1},
                    "y": {"datum": 0, "type": "quantitative"}
                  }
                },
                {
                  "data": {"name": "right"},
                  "mark": {"type": "point", "opacity": 0},
                  "encoding": {
                    "x": {"field": "t", "type": "quantitative",
                      "axis": {"orient": "bottom", "domain": false, "ticks": false, "labelPadding": 14, "values": [2010,2011,2012,2013,2014,2015,2016,2017,2018,2019,2020,2021,2022,2023], "labelExpr": "slice('0' + (datum.value % 100), -2)", "title": null}}
                  }
                }
              ],
              "resolve": {"axis": {"x": "independent"}}
            },
            {
              "width": 563, "height": 1,
              "data": {"values": [{}]},
              "mark": {"type": "point", "opacity": 0},
              "encoding": {
                "x": {"datum": 0, "type": "quantitative", "scale": {"domain": [0, 1]},
                  "axis": {"orient": "top", "domainColor": "#000000", "domainWidth": 1, "ticks": false, "labels": false, "title": "자료: 이베스트투자증권 리서치센터", "titleX": 0, "titleY": 16, "titleAlign": "left", "titleAnchor": null, "titleBaseline": "alphabetic", "titleFont": "Noto Sans CJK KR", "titleFontSize": 15, "titleFontWeight": "normal", "titleColor": "#000000"}}
              }
            }
          ]
        }
      ]
    }
  ]
}
